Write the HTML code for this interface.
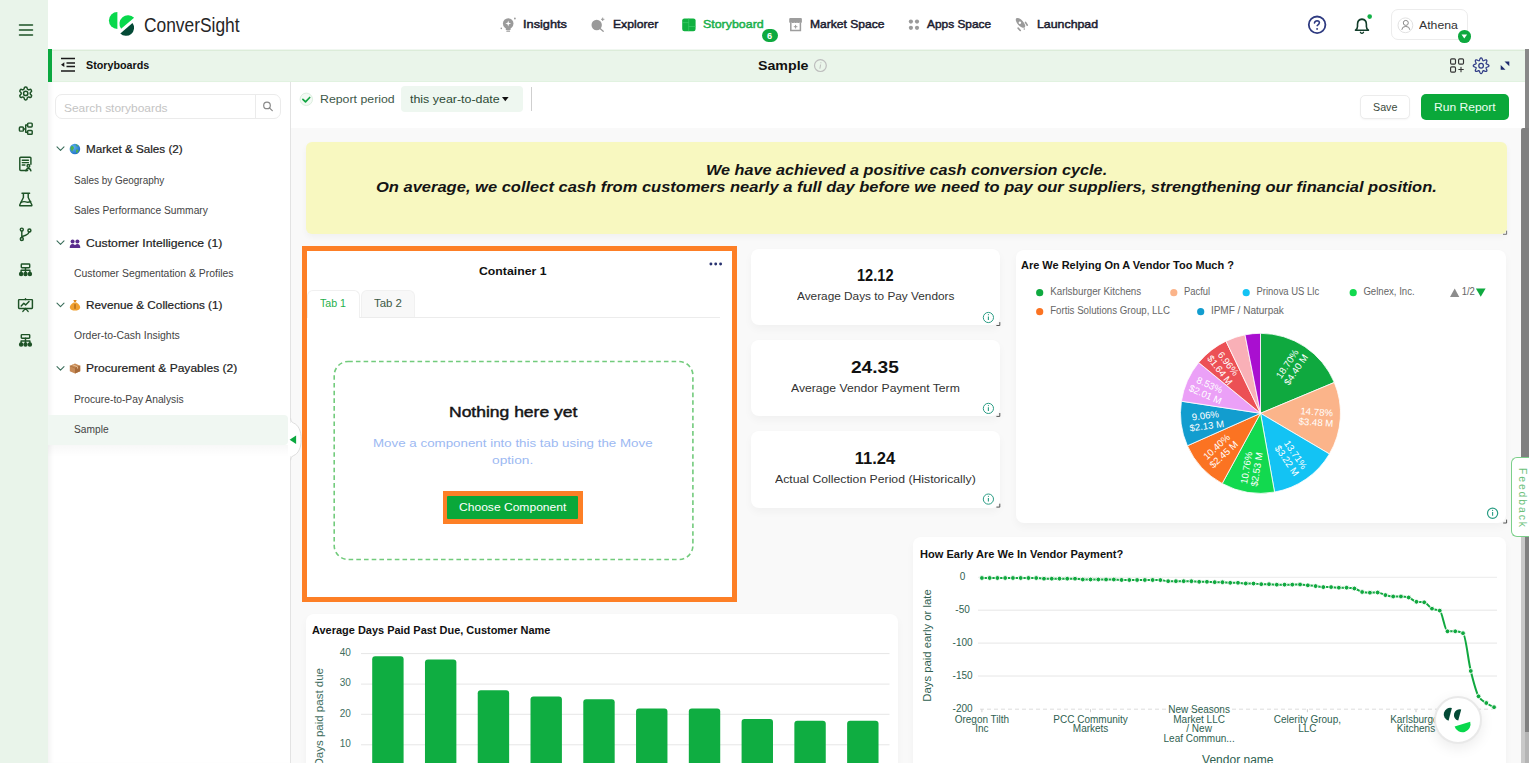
<!DOCTYPE html>
<html><head><meta charset="utf-8">
<style>
*{box-sizing:border-box;margin:0;padding:0}
html,body{width:1529px;height:763px;overflow:hidden;background:#fff;font-family:"Liberation Sans",sans-serif;color:#1d1d1f}
.a{position:absolute}
.t{position:absolute;white-space:nowrap;line-height:1}
#rail{left:0;top:0;width:48px;height:763px;background:#e9f4ea}
#hdr{left:48px;top:0;width:1481px;height:49px;background:#fff}
#gbar{left:48px;top:49px;width:1477px;height:33px;background:#eaf5ea;border-left:4px solid #0aa83f;box-shadow:inset 0 1px 0 #f0f7f0, inset 0 2px 0 #dcecd9, inset 0 -1px 0 #e1f2e0}
#side{left:48px;top:82px;width:243px;height:681px;background:#fff;border-right:1px solid #e3e3e3;box-shadow:inset 5px 0 5px -3px rgba(0,0,0,0.06)}
#tool{left:291px;top:82px;width:1234px;height:46px;background:#fff}
#main{left:291px;top:128px;width:1230px;height:635px;background:#f9f9f9}
#sb1{left:1525px;top:49px;width:4px;height:79px;background:#888}
#sb2{left:1521px;top:128px;width:8px;height:635px;background:#808080;border-radius:2px 0 0 0}
.ic{position:absolute;stroke:#1d5226;fill:none;stroke-width:1.5;stroke-linecap:round;stroke-linejoin:round}
.sb{-webkit-text-stroke:0.45px currentColor}
.sm{-webkit-text-stroke:0.2px currentColor}
.card{position:absolute;background:#fff;border-radius:8px;box-shadow:0 4px 9px rgba(0,0,0,0.035)}
</style></head><body>
<div id="rail" class="a"></div>
<div id="hdr" class="a"></div>
<div id="gbar" class="a"></div>
<div id="side" class="a"></div>
<div id="tool" class="a"></div>
<div id="main" class="a"></div>
<div id="sb1" class="a"></div>
<div id="sb2" class="a"></div>
<div class="a" style="left:1521px;top:537px;width:4px;height:226px;background:#c9c9c9"></div>
<div class="a" style="left:1525px;top:732px;width:4px;height:31px;background:#b5b5b5"></div>

<!-- RAIL ICONS -->
<svg class="ic" style="left:18px;top:22px" width="16" height="16" viewBox="0 0 16 16"><path d="M1.5 3h13M1.5 8h13M1.5 13h13"></path></svg>

<!-- HEADER -->
<svg class="a" style="left:105px;top:8px" width="35" height="32" viewBox="105 8 35 32">
 <path d="M117.4 12 A8.5 8.5 0 0 0 117.4 29 Z" fill="#08d84c"></path>
 <path d="M121.1 28.7 A8.5 8.5 0 0 1 134.1 17.8 Z" fill="#08d84c"></path>
 <path d="M120.3 33.4 A8 8 0 0 0 132.5 23.1 Z" fill="#044a36"></path>
</svg>
<div class="t" style="left: 143.9px; font-size: 19.3px; color: rgb(38, 38, 38); top: 16px; letter-spacing: 0px; transform-origin: 0px 0px; transform: scaleX(0.901);">ConverSight</div>

<!-- nav -->
<svg class="a" style="left:499px;top:16px" width="18" height="17" viewBox="499 16 18 17">
 <circle cx="508.2" cy="23.5" r="5.3" fill="#9a9a9a"></circle>
 <rect x="505.8" y="27" width="4.8" height="3" fill="#9a9a9a"></rect>
 <rect x="506.3" y="30.6" width="3.8" height="1.1" rx=".5" fill="#9a9a9a"></rect>
 <path d="M508.2 20.6 L508.9 22.8 L511.1 23.5 L508.9 24.2 L508.2 26.4 L507.5 24.2 L505.3 23.5 L507.5 22.8 Z" fill="#fff"></path>
 <circle cx="514.9" cy="18.5" r=".9" fill="#9a9a9a"></circle>
 <circle cx="501.3" cy="28.4" r=".8" fill="#9a9a9a"></circle>
</svg>
<div class="t sb" style="left: 523px; font-size: 11px; color: rgb(27, 27, 47); top: 19px; letter-spacing: 0px; transform-origin: 0px 0px; transform: scaleX(1.16);">Insights</div>
<svg class="a" style="left:589px;top:16px" width="18" height="17" viewBox="589 16 18 17">
 <circle cx="596.7" cy="25" r="5.2" fill="#9a9a9a"></circle>
 <path d="M600 28.5 L603.2 31.3" stroke="#9a9a9a" stroke-width="1.3" stroke-linecap="round"></path>
 <path d="M602.7 17.6 v3.4 M601 19.3 h3.4" stroke="#9a9a9a" stroke-width="1"></path>
</svg>
<div class="t sb" style="left: 612.6px; font-size: 11px; color: rgb(27, 27, 47); top: 19px; letter-spacing: 0px; transform-origin: 0px 0px; transform: scaleX(1.106);">Explorer</div>
<svg class="a" style="left:681px;top:17px" width="16" height="16" viewBox="681 17 16 16">
 <rect x="682.2" y="18.4" width="13.4" height="12.8" rx="2.2" fill="#10b140"></rect>
 <path d="M688.7 18.4 V31.2 M682.2 22.6 H688.7 M688.7 26.5 H695.6" stroke="#45cf70" stroke-width=".6"></path>
</svg>
<div class="t sb" style="left: 703.4px; font-size: 11px; color: rgb(24, 176, 74); top: 19px; letter-spacing: 0px; transform-origin: 0px 0px; transform: scaleX(1.128);">Storyboard</div>
<div class="a" style="left:762px;top:29.2px;width:15.7px;height:12.4px;border-radius:7px;background:#0ea93f"></div>
<div class="t" style="left: 766.9px; font-size: 9.2px; font-weight: bold; color: rgb(255, 255, 255); top: 31.5px;">6</div>
<svg class="a" style="left:788px;top:17px" width="16" height="16" viewBox="788 17 16 16">
 <path d="M790.3 18 H800.9 Q801.9 18 801.9 19.2 V22.3 Q801.2 23.4 799.8 22.6 Q798.4 23.6 797 22.6 Q795.6 23.6 794.2 22.6 Q792.8 23.6 791.4 22.6 Q790 23.4 789.2 22.3 V19.2 Q789.2 18 790.3 18 Z" fill="#9d9d9d"></path>
 <path d="M790.8 22.6 V30.4 H800.4 V22.6" fill="none" stroke="#9d9d9d" stroke-width="1.5"></path>
 <path d="M795.6 24.9 v3.6 M793.8 26.7 h3.6" stroke="#9d9d9d" stroke-width="1"></path>
</svg>
<div class="t sb" style="left: 809.8px; font-size: 11px; color: rgb(27, 27, 47); top: 19px; letter-spacing: 0px; transform-origin: 0px 0px; transform: scaleX(1.098);">Market Space</div>
<svg class="a" style="left:907px;top:18px" width="14" height="14" viewBox="907 18 14 14">
 <circle cx="910.9" cy="21.6" r="2.1" fill="#9a9a9a"></circle><circle cx="917" cy="21.6" r="2.1" fill="#9a9a9a"></circle>
 <circle cx="910.9" cy="27.8" r="2.1" fill="#9a9a9a"></circle><circle cx="917" cy="27.8" r="2.1" fill="#9a9a9a"></circle>
</svg>
<div class="t sb" style="left: 927.2px; font-size: 11px; color: rgb(27, 27, 47); top: 19px; letter-spacing: 0px; transform-origin: 0px 0px; transform: scaleX(1.08);">Apps Space</div>
<svg class="a" style="left:1015px;top:17px" width="15" height="16" viewBox="1015 17 15 16">
 <ellipse cx="1020.5" cy="22.9" rx="6.2" ry="2.9" transform="rotate(47 1020.5 22.9)" fill="#9a9a9a"></ellipse>
 <circle cx="1019.9" cy="22.7" r="1.25" fill="#fff"></circle>
 <path d="M1025.5 22.4 L1027.3 25.2 M1018.1 28.1 L1020.3 30.5" stroke="#9a9a9a" stroke-width="1.6" stroke-linecap="round"></path>
 <circle cx="1024.3" cy="29" r=".8" fill="#9a9a9a"></circle>
</svg>
<div class="t sb" style="left: 1037.4px; font-size: 11px; color: rgb(27, 27, 47); top: 19px; letter-spacing: 0px; transform-origin: 0px 0px; transform: scaleX(1.122);">Launchpad</div>

<!-- right header -->
<svg class="a" style="left:1306px;top:15px" width="22" height="20" viewBox="1306 15 22 20">
 <circle cx="1317.1" cy="24.8" r="8.3" fill="none" stroke="#2e3a80" stroke-width="1.8"></circle>
 <path d="M1314.5 22.9 Q1315 20.7 1317.1 20.7 Q1319.4 20.8 1319.4 22.8 Q1319.3 24.3 1317.2 25.6" fill="none" stroke="#2e3a80" stroke-width="1.6" stroke-linecap="round"></path>
 <circle cx="1317.1" cy="28.9" r=".95" fill="#2e3a80"></circle>
</svg>
<svg class="a" style="left:1352px;top:14px" width="22" height="22" viewBox="1352 14 22 22">
 <path d="M1355.5 30.2 Q1357.5 28.8 1357.5 26.4 V24.4 Q1357.5 19.5 1361.95 19.1 Q1366.4 19.5 1366.4 24.4 V26.4 Q1366.4 28.8 1368.4 30.2 Z" fill="none" stroke="#123d2a" stroke-width="1.6" stroke-linejoin="round"></path>
 <path d="M1360.4 32.3 Q1361.95 34.4 1363.5 32.3" fill="none" stroke="#123d2a" stroke-width="1.3" stroke-linecap="round"></path>
 <circle cx="1369.7" cy="16.6" r="2.3" fill="#12b146"></circle>
</svg>
<div class="a" style="left:1391px;top:8.8px;width:77px;height:31.6px;border:1px solid #ececec;border-radius:7px;background:#fff"></div>
<svg class="a" style="left:1397px;top:17px" width="17" height="17" viewBox="1397 17 17 17">
 <circle cx="1405.4" cy="25.3" r="7.4" fill="#fff" stroke="#d9d9d9" stroke-width=".8"></circle>
 <circle cx="1405.8" cy="22.9" r="2.5" fill="none" stroke="#8a8a8a" stroke-width="1"></circle>
 <path d="M1401.8 29.8 Q1402 26.4 1405.8 26.4 Q1409.6 26.4 1409.8 29.8" fill="none" stroke="#8a8a8a" stroke-width="1"></path>
</svg>
<div class="t" style="left: 1418.6px; font-size: 11px; color: rgb(51, 51, 51); top: 20px; letter-spacing: 0px; transform-origin: 0px 0px; transform: scaleX(1.113);">Athena</div>
<div class="a" style="left:1458px;top:30.3px;width:12.6px;height:12.6px;border-radius:50%;background:#0ea93f"></div>
<svg class="a" style="left:1458px;top:30px" width="13" height="13" viewBox="0 0 13 13"><path d="M3.5 4.6 H9.1 L6.3 8.5 Z" fill="#fff"></path></svg>


<!-- RAIL ICONS -->
<svg class="a" style="left:10px;top:80px" width="32" height="275" viewBox="10 80 32 275" fill="none" stroke="#1d5226" stroke-width="1.45" stroke-linecap="round" stroke-linejoin="round">
 <!-- gear 86.4-100.6 -->
 <g transform="translate(17.9 85.6) scale(0.65)" stroke-width="2.3"><path d="M12.22 2h-.44a2 2 0 0 0-2 2v.18a2 2 0 0 1-1 1.73l-.43.25a2 2 0 0 1-2 0l-.15-.08a2 2 0 0 0-2.73.73l-.22.38a2 2 0 0 0 .73 2.73l.15.1a2 2 0 0 1 1 1.72v.51a2 2 0 0 1-1 1.74l-.15.09a2 2 0 0 0-.73 2.73l.22.38a2 2 0 0 0 2.73.73l.15-.08a2 2 0 0 1 2 0l.43.25a2 2 0 0 1 1 1.73V20a2 2 0 0 0 2 2h.44a2 2 0 0 0 2-2v-.18a2 2 0 0 1 1-1.73l.43-.25a2 2 0 0 1 2 0l.15.08a2 2 0 0 0 2.73-.73l.22-.39a2 2 0 0 0-.73-2.73l-.15-.08a2 2 0 0 1-1-1.74v-.5a2 2 0 0 1 1-1.74l.15-.09a2 2 0 0 0 .73-2.73l-.22-.38a2 2 0 0 0-2.73-.73l-.15.08a2 2 0 0 1-2 0l-.43-.25a2 2 0 0 1-1-1.73V4a2 2 0 0 0-2-2z"></path><circle cx="12" cy="12" r="3.3"></circle></g>
 <!-- flow 122.6-135 -->
 <rect x="19.4" y="127" width="4" height="4.1" rx=".9"></rect>
 <rect x="27.6" y="123.1" width="4.6" height="3.8" rx=".9"></rect>
 <rect x="27.6" y="130.4" width="4.6" height="3.9" rx=".9"></rect>
 <path d="M23.4 129 h2.3 M25.7 125 v7.3 M25.7 125 h1.9 M25.7 132.3 h1.9"></path>
 <!-- doc 156.8-171 -->
 <path d="M27.6 170.5 h-6.9 q-.9 0 -.9 -.9 v-11.5 q0 -.9 .9 -.9 h9.3 q.9 0 .9 .9 v6.2"></path>
 <path d="M22.3 160.3 h6.1 M22.3 162.6 h6.1 M22.3 164.9 h2.6"></path>
 <circle cx="28.4" cy="165.9" r="1.3"></circle>
 <path d="M25.9 170.8 q.4 -2.4 2.5 -2.4 q2.1 0 2.5 2.4"></path>
 <!-- flask 192.5-206.8 -->
 <path d="M22 193.2 h7.6 M23.4 193.2 v4.3 l-3.6 7.3 q-.4 .9 .6 .9 h10.8 q1 0 .6 -.9 l-3.6 -7.3 v-4.3"></path>
 <path d="M20.9 202.4 q2.6 -1.2 4.9 -.5 q2.4 .7 4.9 -.4"></path>
 <!-- branch 227.5-240.7 -->
 <circle cx="21.8" cy="229.6" r="1.5"></circle><circle cx="21.8" cy="238.9" r="1.5"></circle><circle cx="29.4" cy="230.4" r="1.5"></circle>
 <path d="M21.8 231.1 v6.3 M29.1 231.9 q-.6 2.6 -3.4 3.4 q-3 .8 -3.9 2.1"></path>
 <!-- hierarchy 263-275.7 -->
 <rect x="21.3" y="264" width="8.4" height="3.7" rx=".7"></rect>
 <path d="M25.5 267.7 v2.6 M21.1 272.6 v-2.3 h8.8 v2.3 M25.5 270.3 v2.3"></path>
 <circle cx="21.1" cy="273.9" r="1.5" fill="#1d5226"></circle><circle cx="25.5" cy="273.9" r="1.5" fill="#1d5226"></circle><circle cx="29.9" cy="273.9" r="1.5" fill="#1d5226"></circle>
 <!-- presentation 298.6-311.5 -->
 <rect x="18.6" y="299.6" width="13.8" height="8.8" rx=".6"></rect>
 <path d="M25.5 298.6 v1 M22.9 311.4 l2.6 -3 2.6 3 M21.2 306 l2.6 -2.7 1.8 1.6 3.4 -3.4"></path>
 <!-- hierarchy 334-346 -->
 <rect x="21.3" y="334.6" width="8.4" height="3.7" rx=".7"></rect>
 <path d="M25.5 338.29999999999995 v2.6 M21.1 343.20000000000005 v-2.3 h8.8 v2.3 M25.5 340.9 v2.3"></path>
 <circle cx="21.1" cy="344.5" r="1.5" fill="#1d5226"></circle><circle cx="25.5" cy="344.5" r="1.5" fill="#1d5226"></circle><circle cx="29.9" cy="344.5" r="1.5" fill="#1d5226"></circle>
</svg>

<!-- GREEN BAR -->
<svg class="a" style="left:59px;top:56px" width="18" height="17" viewBox="59 56 18 17">
 <path d="M61 58.5 h14 M66.5 62.9 h8.5 M66.5 66.6 h8.5 M61 71 h14" stroke="#1a1a1a" stroke-width="1.5"></path>
 <path d="M61 64.7 l3.3 -2.4 v4.8 z" fill="#1a1a1a"></path>
</svg>
<div class="t" style="left: 85.6px; font-size: 10.6px; font-weight: bold; color: rgb(17, 17, 17); top: 60.1px; letter-spacing: 0px; transform-origin: 0px 0px; transform: scaleX(1.013);">Storyboards</div>
<div class="t" style="left: 757.8px; font-size: 13px; font-weight: bold; color: rgb(17, 17, 17); top: 59.1px; letter-spacing: 0px; transform-origin: 0px 0px; transform: scaleX(1.092);">Sample</div>
<svg class="a" style="left:813px;top:59px" width="15" height="14" viewBox="813 59 15 14">
 <circle cx="820.4" cy="65.6" r="5.9" fill="none" stroke="#bdbdbd" stroke-width="1.2"></circle>
 <path d="M820.6 64.5 l-.7 4.2" stroke="#b8b8b8" stroke-width=".9"></path><circle cx="820.9" cy="62.7" r=".55" fill="#b8b8b8"></circle>
</svg>
<svg class="a" style="left:1448px;top:56px" width="64" height="19" viewBox="1448 56 64 19" fill="none" stroke-linecap="round" stroke-linejoin="round">
 <rect x="1450.6" y="58.9" width="4.9" height="5.2" rx="1.1" stroke="#333" stroke-width="1.15"></rect>
 <rect x="1458.6" y="58.9" width="4.9" height="5.2" rx="1.1" stroke="#333" stroke-width="1.15"></rect>
 <rect x="1450.6" y="66.9" width="4.9" height="5.2" rx="1.1" stroke="#333" stroke-width="1.15"></rect>
 <path d="M1461 67.3 v4.5 M1458.8 69.55 h4.5" stroke="#333" stroke-width="1.1"></path>
 <path d="M1481.10 57.85 L1481.60 58.03 L1482.04 58.54 L1482.39 59.23 L1482.65 59.93 L1482.87 60.48 L1483.15 60.76 L1483.54 60.75 L1484.09 60.53 L1484.77 60.21 L1485.50 59.97 L1486.17 59.92 L1486.65 60.15 L1486.88 60.63 L1486.83 61.30 L1486.59 62.03 L1486.27 62.71 L1486.05 63.26 L1486.04 63.65 L1486.32 63.93 L1486.87 64.15 L1487.57 64.41 L1488.26 64.76 L1488.77 65.20 L1488.95 65.70 L1488.77 66.20 L1488.26 66.64 L1487.57 66.99 L1486.87 67.25 L1486.32 67.47 L1486.04 67.75 L1486.05 68.14 L1486.27 68.69 L1486.59 69.37 L1486.83 70.10 L1486.88 70.77 L1486.65 71.25 L1486.17 71.48 L1485.50 71.43 L1484.77 71.19 L1484.09 70.87 L1483.54 70.65 L1483.15 70.64 L1482.87 70.92 L1482.65 71.47 L1482.39 72.17 L1482.04 72.86 L1481.60 73.37 L1481.10 73.55 L1480.60 73.37 L1480.16 72.86 L1479.81 72.17 L1479.55 71.47 L1479.33 70.92 L1479.05 70.64 L1478.66 70.65 L1478.11 70.87 L1477.43 71.19 L1476.70 71.43 L1476.03 71.48 L1475.55 71.25 L1475.32 70.77 L1475.37 70.10 L1475.61 69.37 L1475.93 68.69 L1476.15 68.14 L1476.16 67.75 L1475.88 67.47 L1475.33 67.25 L1474.63 66.99 L1473.94 66.64 L1473.43 66.20 L1473.25 65.70 L1473.43 65.20 L1473.94 64.76 L1474.63 64.41 L1475.33 64.15 L1475.88 63.93 L1476.16 63.65 L1476.15 63.26 L1475.93 62.71 L1475.61 62.03 L1475.37 61.30 L1475.32 60.63 L1475.55 60.15 L1476.03 59.92 L1476.70 59.97 L1477.43 60.21 L1478.11 60.53 L1478.66 60.75 L1479.05 60.76 L1479.33 60.48 L1479.55 59.93 L1479.81 59.23 L1480.16 58.54 L1480.60 58.03 L1481.10 57.85 Z" stroke="#2f3b86" stroke-width="1.25"></path>
 <circle cx="1481.1" cy="65.7" r="2.3" stroke="#2f3b86" stroke-width="1.25"></circle>
 <path d="M1509.3 61.5 V66.3 L1504.5 61.5 Z M1500.7 69.8 V65 L1505.5 69.8 Z" fill="#1e2a6e"></path>
</svg>

<!-- SIDEBAR -->
<div class="a" style="left:54.5px;top:93.9px;width:226px;height:25.6px;border:1px solid #ebebeb;border-radius:7px;background:#fff"></div>
<div class="a" style="left:255px;top:94.5px;width:1px;height:24.5px;background:#ebebeb"></div>
<svg class="a" style="left:262px;top:101px" width="12" height="12" viewBox="262 101 12 12" fill="none" stroke="#888" stroke-width="1.2" stroke-linecap="round">
 <circle cx="267" cy="105.4" r="3.3"></circle><path d="M269.4 107.8 l2.9 2.9"></path>
</svg>
<div class="t" style="left: 64.1px; font-size: 11.2px; color: rgb(196, 196, 196); top: 102.6px; letter-spacing: 0px; transform-origin: 0px 0px; transform: scaleX(1.067);">Search storyboards</div>

<svg class="a" style="left:55px;top:140px" width="12" height="240" viewBox="55 140 12 240" fill="none" stroke="#3b6e5b" stroke-width="1.1" stroke-linecap="round" stroke-linejoin="round">
 <path d="M57 146.8 l3.5 3.5 3.5 -3.5"></path>
 <path d="M57 240.8 l3.5 3.5 3.5 -3.5"></path>
 <path d="M57 303.2 l3.5 3.5 3.5 -3.5"></path>
 <path d="M57 366.6 l3.5 3.5 3.5 -3.5"></path>
</svg>
<!-- globe -->
<svg class="a" style="left:69px;top:143px" width="12" height="12" viewBox="0 0 12 12">
 <defs><radialGradient id="gg" cx=".35" cy=".35" r=".7"><stop offset="0" stop-color="#5fb4f0"></stop><stop offset="1" stop-color="#1f6fc7"></stop></radialGradient></defs>
 <circle cx="5.9" cy="6" r="5.3" fill="url(#gg)"></circle>
 <path d="M2.2 3.2 q2 -.5 2.6 1 q.4 1.6 -.8 2.4 q-.8 .6 -.2 2.2 q-1.9 -1 -2.5 -3.2 z M6.8 1.3 q2 .6 2.5 2 q-1.2 .5 -1.8 -.2 q-.9 -.8 -.7 -1.8 z M7 6.4 q1.8 -.2 2.6 1.2 q-.4 2 -2.2 2.6 q-.4 -1.6 -.4 -3.8 z" fill="#4caf50"></path>
</svg>
<div class="t sm" style="left: 85.6px; font-size: 11.4px; color: rgb(34, 34, 34); top: 144.3px; letter-spacing: 0px; transform-origin: 0px 0px; transform: scaleX(1.025);">Market &amp; Sales (2)</div>
<div class="t" style="left: 73.7px; font-size: 10px; color: rgb(68, 68, 68); top: 175.5px; letter-spacing: 0px; transform-origin: 0px 0px; transform: scaleX(0.996);">Sales by Geography</div>
<div class="t" style="left: 73.7px; font-size: 10px; color: rgb(68, 68, 68); top: 206px; letter-spacing: 0px; transform-origin: 0px 0px; transform: scaleX(1.025);">Sales Performance Summary</div>
<!-- people -->
<svg class="a" style="left:69px;top:239px" width="12" height="10" viewBox="0 0 12 10">
 <circle cx="3.6" cy="2.6" r="2" fill="#5b2d8e"></circle><circle cx="8.4" cy="2.6" r="2" fill="#5b2d8e"></circle>
 <path d="M.7 9 q0 -4 2.9 -4 q2.9 0 2.9 4 z M5.5 9 q0 -4 2.9 -4 q2.9 0 2.9 4 z" fill="#5b2d8e"></path>
</svg>
<div class="t sm" style="left: 85.7px; font-size: 11.4px; color: rgb(34, 34, 34); top: 237.8px; letter-spacing: 0px; transform-origin: 0px 0px; transform: scaleX(1.072);">Customer Intelligence (1)</div>
<div class="t" style="left: 73.6px; font-size: 10px; color: rgb(68, 68, 68); top: 268.9px; letter-spacing: 0px; transform-origin: 0px 0px; transform: scaleX(1.04);">Customer Segmentation &amp; Profiles</div>
<!-- money bag -->
<svg class="a" style="left:69px;top:299px" width="12" height="12" viewBox="0 0 12 12">
 <path d="M4.3 1 h3.4 l-1 2.3 h-1.4 z" fill="#e08a1e"></path>
 <path d="M4.6 3.4 h2.8 q4 2.4 3.8 5.4 q-.3 2.3 -3.3 2.6 h-3.8 q-3 -.3 -3.3 -2.6 q-.2 -3 3.8 -5.4 z" fill="#f0a030"></path>
 <path d="M6 5.2 v4.6" stroke="#8a4b0a" stroke-width=".9"></path>
</svg>
<div class="t sm" style="left: 85.7px; font-size: 11.4px; color: rgb(34, 34, 34); top: 299.9px; letter-spacing: 0px; transform-origin: 0px 0px; transform: scaleX(1.031);">Revenue &amp; Collections (1)</div>
<div class="t" style="left: 73.6px; font-size: 10px; color: rgb(68, 68, 68); top: 331px; letter-spacing: 0px; transform-origin: 0px 0px; transform: scaleX(1.046);">Order-to-Cash Insights</div>
<!-- box -->
<svg class="a" style="left:69px;top:363px" width="12" height="11" viewBox="0 0 12 11">
 <path d="M6 .5 L11.2 2.8 V8.3 L6 10.6 L.8 8.3 V2.8 Z" fill="#c78a55"></path>
 <path d="M.8 2.8 L6 5.1 L11.2 2.8" fill="none" stroke="#9b6433" stroke-width=".5"></path>
 <path d="M6 5.1 V10.6 L11.2 8.3 V2.8 Z" fill="#a86b3a"></path>
 <path d="M3.2 1.6 L8.6 3.9 V5.6" fill="none" stroke="#e8c39a" stroke-width=".9"></path>
</svg>
<div class="t sm" style="left: 85.9px; font-size: 11.4px; color: rgb(34, 34, 34); top: 363.3px; letter-spacing: 0px; transform-origin: 0px 0px; transform: scaleX(1.057);">Procurement &amp; Payables (2)</div>
<div class="t" style="left: 73.9px; font-size: 10px; color: rgb(68, 68, 68); top: 394.7px; letter-spacing: 0px; transform-origin: 0px 0px; transform: scaleX(1.027);">Procure-to-Pay Analysis</div>
<div class="a" style="left:48px;top:415px;width:240px;height:30px;background:#f0f7f2;border-radius:0 4px 4px 0"></div>
<div class="t" style="left: 73.9px; font-size: 10px; color: rgb(68, 68, 68); top: 424.9px; letter-spacing: 0px; transform-origin: 0px 0px; transform: scaleX(1.02);">Sample</div>
<div class="a" style="left:48px;top:445px;width:240px;height:12px;background:linear-gradient(rgba(0,0,0,.028),rgba(0,0,0,0))"></div>
<svg class="a" style="left:286px;top:414px" width="18" height="50" viewBox="286 414 18 50">
 <path d="M290.5 418 Q290.5 422.3 293.5 423 C298.5 425 301.2 431 301.2 439.3 C301.2 447.6 298.5 453.6 293.5 455.6 Q290.5 456.3 290.5 460.5 Z" fill="#fff"></path>
 <path d="M290.5 418 Q290.5 422.3 293.5 423 C298.5 425 301.2 431 301.2 439.3 C301.2 447.6 298.5 453.6 293.5 455.6 Q290.5 456.3 290.5 460.5" fill="none" stroke="#dedede" stroke-width="1"></path>
 <rect x="289.6" y="423" width="1.6" height="33" fill="#fff"></rect>
</svg>
<svg class="a" style="left:288px;top:434px" width="10" height="12" viewBox="288 434 10 12"><path d="M296.1 435.6 V443.9 L289.6 439.8 Z" fill="#0aa83f"></path></svg>

<!-- TOOLBAR -->
<svg class="a" style="left:299px;top:92px" width="15" height="15" viewBox="299 92 15 15">
 <circle cx="306.3" cy="99.3" r="6.2" fill="#f4faf5" stroke="#dcefdf" stroke-width="1"></circle>
 <path d="M302.9 99.3 l2.6 2.5 4.2 -4.3" fill="none" stroke="#12a542" stroke-width="1.7" stroke-linecap="round" stroke-linejoin="round"></path>
</svg>
<div class="t" style="left: 319.5px; font-size: 11.2px; color: rgb(65, 89, 74); top: 93.5px; letter-spacing: 0px; transform-origin: 0px 0px; transform: scaleX(1.102);">Report period</div>
<div class="a" style="left:401.2px;top:86px;width:121.7px;height:25.8px;background:#eef7f0;border-radius:4px"></div>
<div class="t" style="left: 410px; font-size: 11.2px; color: rgb(45, 74, 53); top: 94.3px; letter-spacing: 0px; transform-origin: 0px 0px; transform: scaleX(1.11);">this year-to-date</div>
<svg class="a" style="left:501px;top:96px" width="9" height="7" viewBox="501 96 9 7"><path d="M502 97 h6.6 l-3.3 4.2 z" fill="#111"></path></svg>
<div class="a" style="left:531px;top:86.5px;width:1.4px;height:24.5px;background:#cfcfcf"></div>
<div class="a" style="left:1359.7px;top:94.5px;width:50.3px;height:24.7px;border:1px solid #ececec;border-radius:5px;background:#fff;box-shadow:0 1px 2px rgba(0,0,0,.04)"></div>
<div class="t" style="left: 1372.6px; font-size: 10.4px; color: rgb(59, 74, 59); top: 103px; letter-spacing: 0px; transform-origin: 0px 0px; transform: scaleX(1.03);">Save</div>
<div class="a" style="left:1421.1px;top:94.3px;width:87.9px;height:25.6px;border-radius:5px;background:#0aa83a"></div>
<div class="t" style="left: 1434px; font-size: 10.4px; color: rgb(236, 255, 242); top: 103px; letter-spacing: 0px; transform-origin: 0px 0px; transform: scaleX(1.161);">Run Report</div>

<!-- MAIN CONTENT -->
<div class="a" style="left:305.6px;top:142.4px;width:1201.4px;height:91.6px;background:#f8f8c0;border-radius:6px;box-shadow:0 3px 6px rgba(0,0,0,.04)"></div>
<div class="t" style="left: 706px; font-size: 15px; font-weight: bold; font-style: italic; color: rgb(20, 20, 20); top: 162.4px; letter-spacing: 0px; transform-origin: 0px 0px; transform: scaleX(1.082);">We have achieved a positive cash conversion cycle.</div>
<div class="t" style="left: 375.7px; font-size: 15px; font-weight: bold; font-style: italic; color: rgb(20, 20, 20); top: 179.4px; letter-spacing: 0px; transform-origin: 0px 0px; transform: scaleX(1.1);">On average, we collect cash from customers nearly a full day before we need to pay our suppliers, strengthening our financial position.</div>
<svg class="a" style="left:1500px;top:228px" width="8" height="8" viewBox="1500 228 8 8"><path d="M1503 234.3 h3.6 v-3.6" fill="none" stroke="#666" stroke-width=".9"></path></svg>

<!-- container 1 -->
<div class="a" style="left:302px;top:246px;width:435px;height:356px;border:5px solid #fd7f26;background:#fff"></div>
<div class="t" style="left: 479.3px; font-size: 11.6px; font-weight: bold; color: rgb(17, 17, 17); top: 264.6px; letter-spacing: 0px; transform-origin: 0px 0px; transform: scaleX(1.058);">Container 1</div>
<svg class="a" style="left:708px;top:261px" width="16" height="6" viewBox="708 261 16 6"><circle cx="710.9" cy="264" r="1.45" fill="#283270"></circle><circle cx="715.7" cy="264" r="1.45" fill="#283270"></circle><circle cx="720.6" cy="264" r="1.45" fill="#283270"></circle></svg>
<div class="a" style="left:307px;top:316.8px;width:412.5px;height:1px;background:#ececec"></div>
<div class="a" style="left:307px;top:289.9px;width:52.5px;height:28px;background:#fff;border:1px solid #f0f0f0;border-bottom:none;border-radius:6px 6px 0 0"></div>
<div class="a" style="left:360.8px;top:289.9px;width:54.7px;height:27px;background:#f8f8f8;border:1px solid #f1f1f1;border-bottom:none;border-radius:6px 6px 0 0"></div>
<div class="t" style="left: 320.3px; font-size: 10.6px; color: rgb(31, 176, 75); top: 297.9px; letter-spacing: 0px; transform-origin: 0px 0px; transform: scaleX(1.003);">Tab 1</div>
<div class="t" style="left: 373.9px; font-size: 10.6px; color: rgb(61, 90, 69); top: 297.9px; letter-spacing: 0px; transform-origin: 0px 0px; transform: scaleX(1.08);">Tab 2</div>
<svg class="a" style="left:333px;top:360px" width="362" height="202" viewBox="333 360 362 202"><rect x="334.2" y="361.5" width="358.7" height="198" rx="14" fill="none" stroke="#72cb7c" stroke-width="1.6" stroke-dasharray="4.6 3.1"></rect></svg>
<div class="t sb" style="left: 448.6px; font-size: 15px; color: rgb(21, 21, 21); top: 404px; letter-spacing: 0px; transform-origin: 0px 0px; transform: scaleX(1.166);">Nothing here yet</div>
<div class="t" style="left: 373px; font-size: 11.3px; color: rgb(156, 185, 242); top: 437.5px; letter-spacing: 0px; transform-origin: 0px 0px; transform: scaleX(1.181);">Move a component into this tab using the Move</div>
<div class="t" style="left: 492.2px; font-size: 11.3px; color: rgb(156, 185, 242); top: 454.6px; letter-spacing: 0px; transform-origin: 0px 0px; transform: scaleX(1.215);">option.</div>
<div class="a" style="left:442.7px;top:491.2px;width:140.1px;height:32.4px;background:#fd7f26"></div>
<div class="a" style="left:447.4px;top:496px;width:130.7px;height:23.2px;background:#0aa83a;border-radius:1px"></div>
<div class="t" style="left: 459px; font-size: 11px; color: rgb(255, 255, 255); top: 502.2px; letter-spacing: 0px; transform-origin: 0px 0px; transform: scaleX(1.097);">Choose Component</div>

<!-- KPI cards -->
<div class="card" style="left:751px;top:249.2px;width:249.3px;height:76.3px"></div>
<div class="card" style="left:751px;top:340.1px;width:249.3px;height:76.3px"></div>
<div class="card" style="left:751px;top:430.9px;width:249.3px;height:76.8px"></div>
<div class="t" style="left: 856.8px; font-size: 16.5px; font-weight: bold; color: rgb(17, 17, 17); top: 266.8px; letter-spacing: 0px; transform-origin: 0px 0px; transform: scaleX(0.884);">12.12</div>
<div class="t" style="left: 796.5px; font-size: 10.8px; color: rgb(51, 51, 51); top: 290.9px; letter-spacing: 0px; transform-origin: 0px 0px; transform: scaleX(1.094);">Average Days to Pay Vendors</div>
<div class="t" style="left: 851px; font-size: 16.5px; font-weight: bold; color: rgb(17, 17, 17); top: 358.6px; letter-spacing: 0px; transform-origin: 0px 0px; transform: scaleX(1.157);">24.35</div>
<div class="t" style="left: 790.6px; font-size: 10.8px; color: rgb(51, 51, 51); top: 382.8px; letter-spacing: 0px; transform-origin: 0px 0px; transform: scaleX(1.128);">Average Vendor Payment Term</div>
<div class="t" style="left: 854.8px; font-size: 16.5px; font-weight: bold; color: rgb(17, 17, 17); top: 449.6px; letter-spacing: 0px; transform-origin: 0px 0px; transform: scaleX(1);">11.24</div>
<div class="t" style="left: 774.8px; font-size: 10.8px; color: rgb(51, 51, 51); top: 473.7px; letter-spacing: 0px; transform-origin: 0px 0px; transform: scaleX(1.134);">Actual Collection Period (Historically)</div>
<svg class="a" style="left:980px;top:310px" width="22" height="200" viewBox="980 310 22 200" fill="none">
 <g id="kinfo"><circle cx="988.4" cy="317.5" r="5.1" stroke="#2a9d84" stroke-width="1"></circle><path d="M988.4 316.4 v3.6" stroke="#2a9d84" stroke-width="1.1"></path><circle cx="988.4" cy="314.7" r=".6" fill="#2a9d84"></circle>
 <path d="M996.4 325.5 h3.4 v-3.4" stroke="#555" stroke-width="1"></path></g>
 <use href="#kinfo" y="90.9"></use>
 <use href="#kinfo" y="181.6"></use>
</svg>

<!-- pie card -->
<div class="card" style="left:1015.6px;top:249.5px;width:490.7px;height:273.9px"></div>
<div class="t" style="left: 1021.2px; font-size: 10px; font-weight: bold; color: rgb(17, 17, 17); top: 261.3px; letter-spacing: 0px; transform-origin: 0px 0px; transform: scaleX(1.098);">Are We Relying On A Vendor Too Much ?</div>

<!-- bar chart card -->
<div class="card" style="left:306.2px;top:613.8px;width:592px;height:160px"></div>
<div class="t" style="left: 312.1px; font-size: 10px; font-weight: bold; color: rgb(17, 17, 17); top: 625.6px; letter-spacing: 0px; transform-origin: 0px 0px; transform: scaleX(1.096);">Average Days Paid Past Due, Customer Name</div>

<!-- line chart card -->
<div class="card" style="left:913.2px;top:537.3px;width:592.6px;height:240px"></div>
<div class="t" style="left: 920.2px; font-size: 10px; font-weight: bold; color: rgb(17, 17, 17); top: 549.5px; letter-spacing: 0px; transform-origin: 0px 0px; transform: scaleX(1.105);">How Early Are We In Vendor Payment?</div>
<!-- CHARTS -->
<svg class="a" style="left:0;top:0" width="1529" height="763" viewBox="0 0 1529 763">
<path d="M1260.5 413.3 L1260.50 333.30 A80 80 0 0 1 1334.31 382.45 Z" fill="#0fa93f" stroke="#fff" stroke-width=".8" stroke-linejoin="round"></path>
<path d="M1260.5 413.3 L1334.31 382.45 A80 80 0 0 1 1329.41 453.94 Z" fill="#fbb48a" stroke="#fff" stroke-width=".8" stroke-linejoin="round"></path>
<path d="M1260.5 413.3 L1329.41 453.94 A80 80 0 0 1 1274.55 492.06 Z" fill="#13c3f4" stroke="#fff" stroke-width=".8" stroke-linejoin="round"></path>
<path d="M1260.5 413.3 L1274.55 492.06 A80 80 0 0 1 1222.18 483.53 Z" fill="#12d94f" stroke="#fff" stroke-width=".8" stroke-linejoin="round"></path>
<path d="M1260.5 413.3 L1222.18 483.53 A80 80 0 0 1 1187.38 445.76 Z" fill="#fb7322" stroke="#fff" stroke-width=".8" stroke-linejoin="round"></path>
<path d="M1260.5 413.3 L1187.38 445.76 A80 80 0 0 1 1181.42 401.23 Z" fill="#129dcf" stroke="#fff" stroke-width=".8" stroke-linejoin="round"></path>
<path d="M1260.5 413.3 L1181.42 401.23 A80 80 0 0 1 1198.67 362.54 Z" fill="#eba0f7" stroke="#fff" stroke-width=".8" stroke-linejoin="round"></path>
<path d="M1260.5 413.3 L1198.67 362.54 A80 80 0 0 1 1225.98 341.13 Z" fill="#ec5055" stroke="#fff" stroke-width=".8" stroke-linejoin="round"></path>
<path d="M1260.5 413.3 L1225.98 341.13 A80 80 0 0 1 1245.02 334.81 Z" fill="#f9b0b7" stroke="#fff" stroke-width=".8" stroke-linejoin="round"></path>
<path d="M1260.5 413.3 L1245.02 334.81 A80 80 0 0 1 1260.50 333.30 Z" fill="#a90fd0" stroke="#fff" stroke-width=".8" stroke-linejoin="round"></path>
<g font-family="Liberation Sans, sans-serif" font-size="9.6" fill="#fff">
<g transform="translate(1291.54 366.69) rotate(-56.3)"><text x="0" y="-1.8" text-anchor="middle">18.70%</text><text x="0" y="8.6" text-anchor="middle">$4.40 M</text></g>
<g transform="translate(1316.37 417.13) rotate(3.9)"><text x="0" y="-1.8" text-anchor="middle">14.78%</text><text x="0" y="8.6" text-anchor="middle">$3.48 M</text></g>
<g transform="translate(1291.31 457.65) rotate(55.2)"><text x="0" y="-1.8" text-anchor="middle">13.71%</text><text x="0" y="8.6" text-anchor="middle">$3.22 M</text></g>
<g transform="translate(1251.50 468.57) rotate(-80.7)"><text x="0" y="-1.8" text-anchor="middle">10.76%</text><text x="0" y="8.6" text-anchor="middle">$2.53 M</text></g>
<g transform="translate(1220.05 450.57) rotate(-42.7)"><text x="0" y="-1.8" text-anchor="middle">10.40%</text><text x="0" y="8.6" text-anchor="middle">$2.45 M</text></g>
<g transform="translate(1205.99 420.60) rotate(-7.6)"><text x="0" y="-1.8" text-anchor="middle">9.06%</text><text x="0" y="8.6" text-anchor="middle">$2.13 M</text></g>
<g transform="translate(1207.53 389.68) rotate(24.0)"><text x="0" y="-1.8" text-anchor="middle">8.53%</text><text x="0" y="8.6" text-anchor="middle">$2.01 M</text></g>
<g transform="translate(1224.10 366.86) rotate(51.9)"><text x="0" y="-1.8" text-anchor="middle">6.96%</text><text x="0" y="8.6" text-anchor="middle">$1.64 M</text></g>
</g>
<g font-family="Liberation Sans, sans-serif" font-size="10" fill="#666">
<circle cx="1039.7" cy="292.7" r="3.6" fill="#0fa93f"></circle>
<text x="1050.2" y="295.3" textLength="91.0" lengthAdjust="spacingAndGlyphs">Karlsburger Kitchens</text>
<circle cx="1173.8" cy="292.7" r="3.6" fill="#fbb48a"></circle>
<text x="1183.9" y="295.3" textLength="26.2" lengthAdjust="spacingAndGlyphs">Pacful</text>
<circle cx="1246.2" cy="292.7" r="3.6" fill="#13c3f4"></circle>
<text x="1256.5" y="295.3" textLength="62.7" lengthAdjust="spacingAndGlyphs">Prinova US Llc</text>
<circle cx="1353.2" cy="292.7" r="3.6" fill="#12d94f"></circle>
<text x="1363.4" y="295.3" textLength="51.3" lengthAdjust="spacingAndGlyphs">Gelnex, Inc.</text>
<circle cx="1039.7" cy="311.7" r="3.6" fill="#fb7322"></circle>
<text x="1050.2" y="314.3" textLength="119.7" lengthAdjust="spacingAndGlyphs">Fortis Solutions Group, LLC</text>
<circle cx="1200.7" cy="311.7" r="3.6" fill="#129dcf"></circle>
<text x="1210.9" y="314.3" textLength="73.0" lengthAdjust="spacingAndGlyphs">IPMF / Naturpak</text>
<text x="1461.7" y="295.3" textLength="13.2" lengthAdjust="spacingAndGlyphs">1/2</text>
</g>
<path d="M1450 297 L1454.7 288.6 L1459.3 297 Z" fill="#8c8c8c"></path>
<path d="M1475.9 288.6 H1485.6 L1480.75 296.8 Z" fill="#0fa93f"></path>
<circle cx="1492.6" cy="513.2" r="5.1" fill="none" stroke="#2a9d84" stroke-width="1.2"></circle><path d="M1492.6 512.1 v3.6" stroke="#2a9d84" stroke-width="1.1"></path><circle cx="1492.6" cy="510.4" r=".6" fill="#2a9d84"></circle>
<path d="M1503.2 523 h3.4 v-3.4" fill="none" stroke="#555" stroke-width="1"></path>
<path d="M361 653.6 H889.5" stroke="#e6e6e6" stroke-width="1"></path>
<path d="M361 684.1 H889.5" stroke="#e6e6e6" stroke-width="1"></path>
<path d="M361 714.3 H889.5" stroke="#e6e6e6" stroke-width="1"></path>
<path d="M361 744.8 H889.5" stroke="#e6e6e6" stroke-width="1"></path>
<g font-family="Liberation Sans, sans-serif" font-size="10" fill="#3f6e5f">
<text x="350.8" y="655.6" text-anchor="end">40</text>
<text x="350.8" y="686.4" text-anchor="end">30</text>
<text x="350.8" y="716.8" text-anchor="end">20</text>
<text x="350.8" y="747.4" text-anchor="end">10</text>
<text transform="translate(323.2 766.5) rotate(-90)" textLength="98.5" lengthAdjust="spacingAndGlyphs" font-size="11">Days paid past due</text>
</g>
<path d="M372.20 770 V659.3 Q372.20 656.3 375.20 656.3 H400.60 Q403.60 656.3 403.60 659.3 V770 Z" fill="#0fad41"></path>
<path d="M424.97 770 V662.4 Q424.97 659.4 427.97 659.4 H453.37 Q456.37 659.4 456.37 662.4 V770 Z" fill="#0fad41"></path>
<path d="M477.74 770 V693.2 Q477.74 690.2 480.74 690.2 H506.14 Q509.14 690.2 509.14 693.2 V770 Z" fill="#0fad41"></path>
<path d="M530.51 770 V699.5 Q530.51 696.5 533.51 696.5 H558.91 Q561.91 696.5 561.91 699.5 V770 Z" fill="#0fad41"></path>
<path d="M583.28 770 V702.2 Q583.28 699.2 586.28 699.2 H611.68 Q614.68 699.2 614.68 702.2 V770 Z" fill="#0fad41"></path>
<path d="M636.05 770 V711.6 Q636.05 708.6 639.05 708.6 H664.45 Q667.45 708.6 667.45 711.6 V770 Z" fill="#0fad41"></path>
<path d="M688.82 770 V711.6 Q688.82 708.6 691.82 708.6 H717.22 Q720.22 708.6 720.22 711.6 V770 Z" fill="#0fad41"></path>
<path d="M741.59 770 V722.0 Q741.59 719.0 744.59 719.0 H769.99 Q772.99 719.0 772.99 722.0 V770 Z" fill="#0fad41"></path>
<path d="M794.36 770 V723.7 Q794.36 720.7 797.36 720.7 H822.76 Q825.76 720.7 825.76 723.7 V770 Z" fill="#0fad41"></path>
<path d="M847.13 770 V723.7 Q847.13 720.7 850.13 720.7 H875.53 Q878.53 720.7 878.53 723.7 V770 Z" fill="#0fad41"></path>
<path d="M978 610.2 H1497" stroke="#e6e6e6" stroke-width="1"></path>
<path d="M978 643.1 H1497" stroke="#e6e6e6" stroke-width="1"></path>
<path d="M978 676.0 H1497" stroke="#e6e6e6" stroke-width="1"></path>
<path d="M978 577.3 H1497" stroke="#ececec" stroke-width="1"></path>
<path d="M980 709.2 H1497" stroke="#dcdcdc" stroke-width="1" stroke-dasharray="4 3"></path>
<path d="M981.9 709.2 v3" stroke="#cfcfcf" stroke-width="1"></path>
<path d="M1090.5 709.2 v3" stroke="#cfcfcf" stroke-width="1"></path>
<path d="M1199.1 709.2 v3" stroke="#cfcfcf" stroke-width="1"></path>
<path d="M1307.4 709.2 v3" stroke="#cfcfcf" stroke-width="1"></path>
<path d="M1416.0 709.2 v3" stroke="#cfcfcf" stroke-width="1"></path>
<g font-family="Liberation Sans, sans-serif" font-size="10" fill="#2f5f51" text-anchor="middle">
<text x="962.6" y="580.1">0</text>
<text x="962.6" y="613.4">-50</text>
<text x="962.6" y="646.4">-100</text>
<text x="962.6" y="679.4">-150</text>
<text x="962.6" y="712.3">-200</text>
<text x="981.9" y="722.7">Oregon Tilth</text>
<text x="981.9" y="732.4">Inc</text>
<text x="1090.6" y="722.7">PCC Community</text>
<text x="1090.6" y="732.4">Markets</text>
<text x="1199.1" y="713.3">New Seasons</text>
<text x="1199.1" y="722.7">Market LLC</text>
<text x="1199.1" y="732.4">/ New</text>
<text x="1199.1" y="741.6">Leaf Commun...</text>
<text x="1307.4" y="722.7">Celerity Group,</text>
<text x="1307.4" y="732.4">LLC</text>
<text x="1416.0" y="722.7">Karlsburger</text>
<text x="1416.0" y="732.4">Kitchens</text>
<text x="1237.8" y="763.5" font-size="12">Vendor name</text>
<text transform="translate(931 645.5) rotate(-90)" font-size="11.3">Days paid early or late</text>
</g>
<path d="M981.90 578.00 C984.49 578.00 987.07 578.00 989.66 578.00 C992.25 578.00 994.83 578.00 997.42 578.00 C1000.01 578.00 1002.59 578.00 1005.18 578.00 C1007.77 578.00 1010.35 578.00 1012.94 578.00 C1015.53 578.00 1018.11 578.00 1020.70 578.00 C1023.29 578.00 1025.87 578.00 1028.46 578.00 C1031.05 578.00 1033.63 578.01 1036.22 578.02 C1038.81 578.03 1041.39 578.70 1043.98 578.70 C1046.57 578.70 1049.15 578.70 1051.74 578.70 C1054.33 578.70 1056.91 578.70 1059.50 578.70 C1062.09 578.70 1064.67 578.70 1067.26 578.70 C1069.85 578.70 1072.43 578.70 1075.02 578.70 C1077.61 578.70 1080.19 579.46 1082.78 579.48 C1085.37 579.49 1087.95 579.50 1090.54 579.50 C1093.13 579.50 1095.71 579.50 1098.30 579.50 C1100.89 579.50 1103.47 579.50 1106.06 579.50 C1108.65 579.50 1111.23 579.50 1113.82 579.50 C1116.41 579.50 1118.99 579.96 1121.58 579.97 C1124.17 579.99 1126.75 580.00 1129.34 580.00 C1131.93 580.00 1134.51 580.00 1137.10 580.00 C1139.69 580.00 1142.27 580.00 1144.86 580.00 C1147.45 580.00 1150.03 580.00 1152.62 580.00 C1155.21 580.00 1157.79 580.02 1160.38 580.06 C1162.97 580.10 1165.55 581.20 1168.14 581.20 C1170.73 581.20 1173.31 581.20 1175.90 581.20 C1178.49 581.20 1181.07 581.20 1183.66 581.20 C1186.25 581.20 1188.83 581.21 1191.42 581.23 C1194.01 581.25 1196.59 581.80 1199.18 581.80 C1201.77 581.80 1204.35 581.80 1206.94 581.80 C1209.53 581.80 1212.11 582.15 1214.70 582.19 C1217.29 582.22 1219.87 582.20 1222.46 582.23 C1225.05 582.27 1227.63 582.80 1230.22 582.80 C1232.81 582.80 1235.39 582.80 1237.98 582.80 C1240.57 582.80 1243.15 583.47 1245.74 583.50 C1248.33 583.53 1250.91 583.51 1253.50 583.54 C1256.09 583.57 1258.67 584.20 1261.26 584.20 C1263.85 584.20 1266.43 584.20 1269.02 584.20 C1271.61 584.20 1274.19 584.69 1276.78 584.69 C1279.37 584.69 1281.95 584.68 1284.54 584.67 C1287.13 584.66 1289.71 584.66 1292.30 584.63 C1294.89 584.61 1297.47 584.50 1300.06 584.50 C1302.65 584.50 1305.23 585.03 1307.82 585.30 C1310.41 585.57 1312.99 585.80 1315.58 586.10 C1318.17 586.40 1320.75 587.10 1323.34 587.10 C1325.93 587.10 1328.51 587.10 1331.10 587.10 C1333.69 587.10 1336.27 587.70 1338.86 587.70 C1341.45 587.70 1344.03 587.70 1346.62 587.70 C1349.21 587.70 1351.79 587.97 1354.38 588.50 C1356.97 589.03 1359.55 591.53 1362.14 592.00 C1364.73 592.47 1367.31 592.70 1369.90 592.70 C1372.49 592.70 1375.07 592.50 1377.66 592.50 C1380.25 592.50 1382.83 594.43 1385.42 595.10 C1388.01 595.77 1390.59 596.50 1393.18 596.50 C1395.77 596.50 1398.35 596.50 1400.94 596.50 C1403.53 596.50 1406.11 596.83 1408.70 597.50 C1411.29 598.17 1413.87 601.47 1416.46 601.80 C1419.05 602.13 1421.63 601.97 1424.22 602.30 C1426.81 602.63 1429.39 607.43 1431.98 608.70 C1434.57 609.97 1437.15 609.33 1439.74 610.60 C1442.33 611.87 1444.91 631.30 1447.50 631.30 C1450.09 631.30 1452.67 631.30 1455.26 631.30 C1457.85 631.30 1460.43 631.93 1463.02 633.20 C1465.61 634.47 1468.19 660.48 1470.78 671.00 C1473.37 681.52 1475.95 691.83 1478.54 696.30 C1481.13 700.77 1483.71 701.18 1486.30 703.00 C1488.89 704.82 1491.47 706.01 1494.06 707.20" fill="none" stroke="#10a83f" stroke-width="2" stroke-linejoin="round"></path>
<circle cx="981.90" cy="578.00" r="2.4" fill="#10a83f" stroke="#fff" stroke-width=".9"></circle>
<circle cx="989.66" cy="578.00" r="2.4" fill="#10a83f" stroke="#fff" stroke-width=".9"></circle>
<circle cx="997.42" cy="578.00" r="2.4" fill="#10a83f" stroke="#fff" stroke-width=".9"></circle>
<circle cx="1005.18" cy="578.00" r="2.4" fill="#10a83f" stroke="#fff" stroke-width=".9"></circle>
<circle cx="1012.94" cy="578.00" r="2.4" fill="#10a83f" stroke="#fff" stroke-width=".9"></circle>
<circle cx="1020.70" cy="578.00" r="2.4" fill="#10a83f" stroke="#fff" stroke-width=".9"></circle>
<circle cx="1028.46" cy="578.00" r="2.4" fill="#10a83f" stroke="#fff" stroke-width=".9"></circle>
<circle cx="1036.22" cy="578.02" r="2.4" fill="#10a83f" stroke="#fff" stroke-width=".9"></circle>
<circle cx="1043.98" cy="578.70" r="2.4" fill="#10a83f" stroke="#fff" stroke-width=".9"></circle>
<circle cx="1051.74" cy="578.70" r="2.4" fill="#10a83f" stroke="#fff" stroke-width=".9"></circle>
<circle cx="1059.50" cy="578.70" r="2.4" fill="#10a83f" stroke="#fff" stroke-width=".9"></circle>
<circle cx="1067.26" cy="578.70" r="2.4" fill="#10a83f" stroke="#fff" stroke-width=".9"></circle>
<circle cx="1075.02" cy="578.70" r="2.4" fill="#10a83f" stroke="#fff" stroke-width=".9"></circle>
<circle cx="1082.78" cy="579.48" r="2.4" fill="#10a83f" stroke="#fff" stroke-width=".9"></circle>
<circle cx="1090.54" cy="579.50" r="2.4" fill="#10a83f" stroke="#fff" stroke-width=".9"></circle>
<circle cx="1098.30" cy="579.50" r="2.4" fill="#10a83f" stroke="#fff" stroke-width=".9"></circle>
<circle cx="1106.06" cy="579.50" r="2.4" fill="#10a83f" stroke="#fff" stroke-width=".9"></circle>
<circle cx="1113.82" cy="579.50" r="2.4" fill="#10a83f" stroke="#fff" stroke-width=".9"></circle>
<circle cx="1121.58" cy="579.97" r="2.4" fill="#10a83f" stroke="#fff" stroke-width=".9"></circle>
<circle cx="1129.34" cy="580.00" r="2.4" fill="#10a83f" stroke="#fff" stroke-width=".9"></circle>
<circle cx="1137.10" cy="580.00" r="2.4" fill="#10a83f" stroke="#fff" stroke-width=".9"></circle>
<circle cx="1144.86" cy="580.00" r="2.4" fill="#10a83f" stroke="#fff" stroke-width=".9"></circle>
<circle cx="1152.62" cy="580.00" r="2.4" fill="#10a83f" stroke="#fff" stroke-width=".9"></circle>
<circle cx="1160.38" cy="580.06" r="2.4" fill="#10a83f" stroke="#fff" stroke-width=".9"></circle>
<circle cx="1168.14" cy="581.20" r="2.4" fill="#10a83f" stroke="#fff" stroke-width=".9"></circle>
<circle cx="1175.90" cy="581.20" r="2.4" fill="#10a83f" stroke="#fff" stroke-width=".9"></circle>
<circle cx="1183.66" cy="581.20" r="2.4" fill="#10a83f" stroke="#fff" stroke-width=".9"></circle>
<circle cx="1191.42" cy="581.23" r="2.4" fill="#10a83f" stroke="#fff" stroke-width=".9"></circle>
<circle cx="1199.18" cy="581.80" r="2.4" fill="#10a83f" stroke="#fff" stroke-width=".9"></circle>
<circle cx="1206.94" cy="581.80" r="2.4" fill="#10a83f" stroke="#fff" stroke-width=".9"></circle>
<circle cx="1214.70" cy="582.19" r="2.4" fill="#10a83f" stroke="#fff" stroke-width=".9"></circle>
<circle cx="1222.46" cy="582.23" r="2.4" fill="#10a83f" stroke="#fff" stroke-width=".9"></circle>
<circle cx="1230.22" cy="582.80" r="2.4" fill="#10a83f" stroke="#fff" stroke-width=".9"></circle>
<circle cx="1237.98" cy="582.80" r="2.4" fill="#10a83f" stroke="#fff" stroke-width=".9"></circle>
<circle cx="1245.74" cy="583.50" r="2.4" fill="#10a83f" stroke="#fff" stroke-width=".9"></circle>
<circle cx="1253.50" cy="583.54" r="2.4" fill="#10a83f" stroke="#fff" stroke-width=".9"></circle>
<circle cx="1261.26" cy="584.20" r="2.4" fill="#10a83f" stroke="#fff" stroke-width=".9"></circle>
<circle cx="1269.02" cy="584.20" r="2.4" fill="#10a83f" stroke="#fff" stroke-width=".9"></circle>
<circle cx="1276.78" cy="584.69" r="2.4" fill="#10a83f" stroke="#fff" stroke-width=".9"></circle>
<circle cx="1284.54" cy="584.67" r="2.4" fill="#10a83f" stroke="#fff" stroke-width=".9"></circle>
<circle cx="1292.30" cy="584.63" r="2.4" fill="#10a83f" stroke="#fff" stroke-width=".9"></circle>
<circle cx="1300.06" cy="584.50" r="2.4" fill="#10a83f" stroke="#fff" stroke-width=".9"></circle>
<circle cx="1307.82" cy="585.30" r="2.4" fill="#10a83f" stroke="#fff" stroke-width=".9"></circle>
<circle cx="1315.58" cy="586.10" r="2.4" fill="#10a83f" stroke="#fff" stroke-width=".9"></circle>
<circle cx="1323.34" cy="587.10" r="2.4" fill="#10a83f" stroke="#fff" stroke-width=".9"></circle>
<circle cx="1331.10" cy="587.10" r="2.4" fill="#10a83f" stroke="#fff" stroke-width=".9"></circle>
<circle cx="1338.86" cy="587.70" r="2.4" fill="#10a83f" stroke="#fff" stroke-width=".9"></circle>
<circle cx="1346.62" cy="587.70" r="2.4" fill="#10a83f" stroke="#fff" stroke-width=".9"></circle>
<circle cx="1354.38" cy="588.50" r="2.4" fill="#10a83f" stroke="#fff" stroke-width=".9"></circle>
<circle cx="1362.14" cy="592.00" r="2.4" fill="#10a83f" stroke="#fff" stroke-width=".9"></circle>
<circle cx="1369.90" cy="592.70" r="2.4" fill="#10a83f" stroke="#fff" stroke-width=".9"></circle>
<circle cx="1377.66" cy="592.50" r="2.4" fill="#10a83f" stroke="#fff" stroke-width=".9"></circle>
<circle cx="1385.42" cy="595.10" r="2.4" fill="#10a83f" stroke="#fff" stroke-width=".9"></circle>
<circle cx="1393.18" cy="596.50" r="2.4" fill="#10a83f" stroke="#fff" stroke-width=".9"></circle>
<circle cx="1400.94" cy="596.50" r="2.4" fill="#10a83f" stroke="#fff" stroke-width=".9"></circle>
<circle cx="1408.70" cy="597.50" r="2.4" fill="#10a83f" stroke="#fff" stroke-width=".9"></circle>
<circle cx="1416.46" cy="601.80" r="2.4" fill="#10a83f" stroke="#fff" stroke-width=".9"></circle>
<circle cx="1424.22" cy="602.30" r="2.4" fill="#10a83f" stroke="#fff" stroke-width=".9"></circle>
<circle cx="1431.98" cy="608.70" r="2.4" fill="#10a83f" stroke="#fff" stroke-width=".9"></circle>
<circle cx="1439.74" cy="610.60" r="2.4" fill="#10a83f" stroke="#fff" stroke-width=".9"></circle>
<circle cx="1447.50" cy="631.30" r="2.4" fill="#10a83f" stroke="#fff" stroke-width=".9"></circle>
<circle cx="1455.26" cy="631.30" r="2.4" fill="#10a83f" stroke="#fff" stroke-width=".9"></circle>
<circle cx="1463.02" cy="633.20" r="2.4" fill="#10a83f" stroke="#fff" stroke-width=".9"></circle>
<circle cx="1470.78" cy="671.00" r="2.4" fill="#10a83f" stroke="#fff" stroke-width=".9"></circle>
<circle cx="1478.54" cy="696.30" r="2.4" fill="#10a83f" stroke="#fff" stroke-width=".9"></circle>
<circle cx="1486.30" cy="703.00" r="2.4" fill="#10a83f" stroke="#fff" stroke-width=".9"></circle>
<circle cx="1494.06" cy="707.20" r="2.4" fill="#10a83f" stroke="#fff" stroke-width=".9"></circle>
</svg>
<!-- /CHARTS -->
<!-- FEEDBACK + CHATBOT -->
<div class="a" style="left:1511.4px;top:457px;width:22px;height:80.3px;background:#fff;border:1px solid #7ccf8a;border-right:none;border-radius:6px 0 0 6px"></div>
<div class="t" style="left:1517px;top:467.5px;font-size:10.4px;color:#6cbf7a;transform-origin:0 0;transform:translate(9.5px,0) rotate(90deg);letter-spacing:1.9px">Feedback</div>
<div class="a" style="left:1434.4px;top:695.7px;width:48px;height:48px;border-radius:50%;background:#fff;border:2px solid #e9e9e9;box-shadow:0 4px 14px rgba(0,0,0,.08)"></div>
<svg class="a" style="left:1440px;top:703px" width="34" height="32" viewBox="1440 703 34 32">
 <path d="M1450.3 707.8 A6.5 6.5 0 0 0 1450.3 720.8 Z" fill="#044a36" transform="rotate(15 1450 714)"></path>
 <path d="M1459.7 709 A5.8 5.8 0 0 0 1459.7 720.6 Z" fill="#044a36" transform="rotate(15 1459 715)"></path>
 <path d="M1454.6 726.5 L1470.2 721.8 A8 8 0 0 1 1454.6 726.5 Z" fill="#08d84c"></path>
</svg>


</body></html>
